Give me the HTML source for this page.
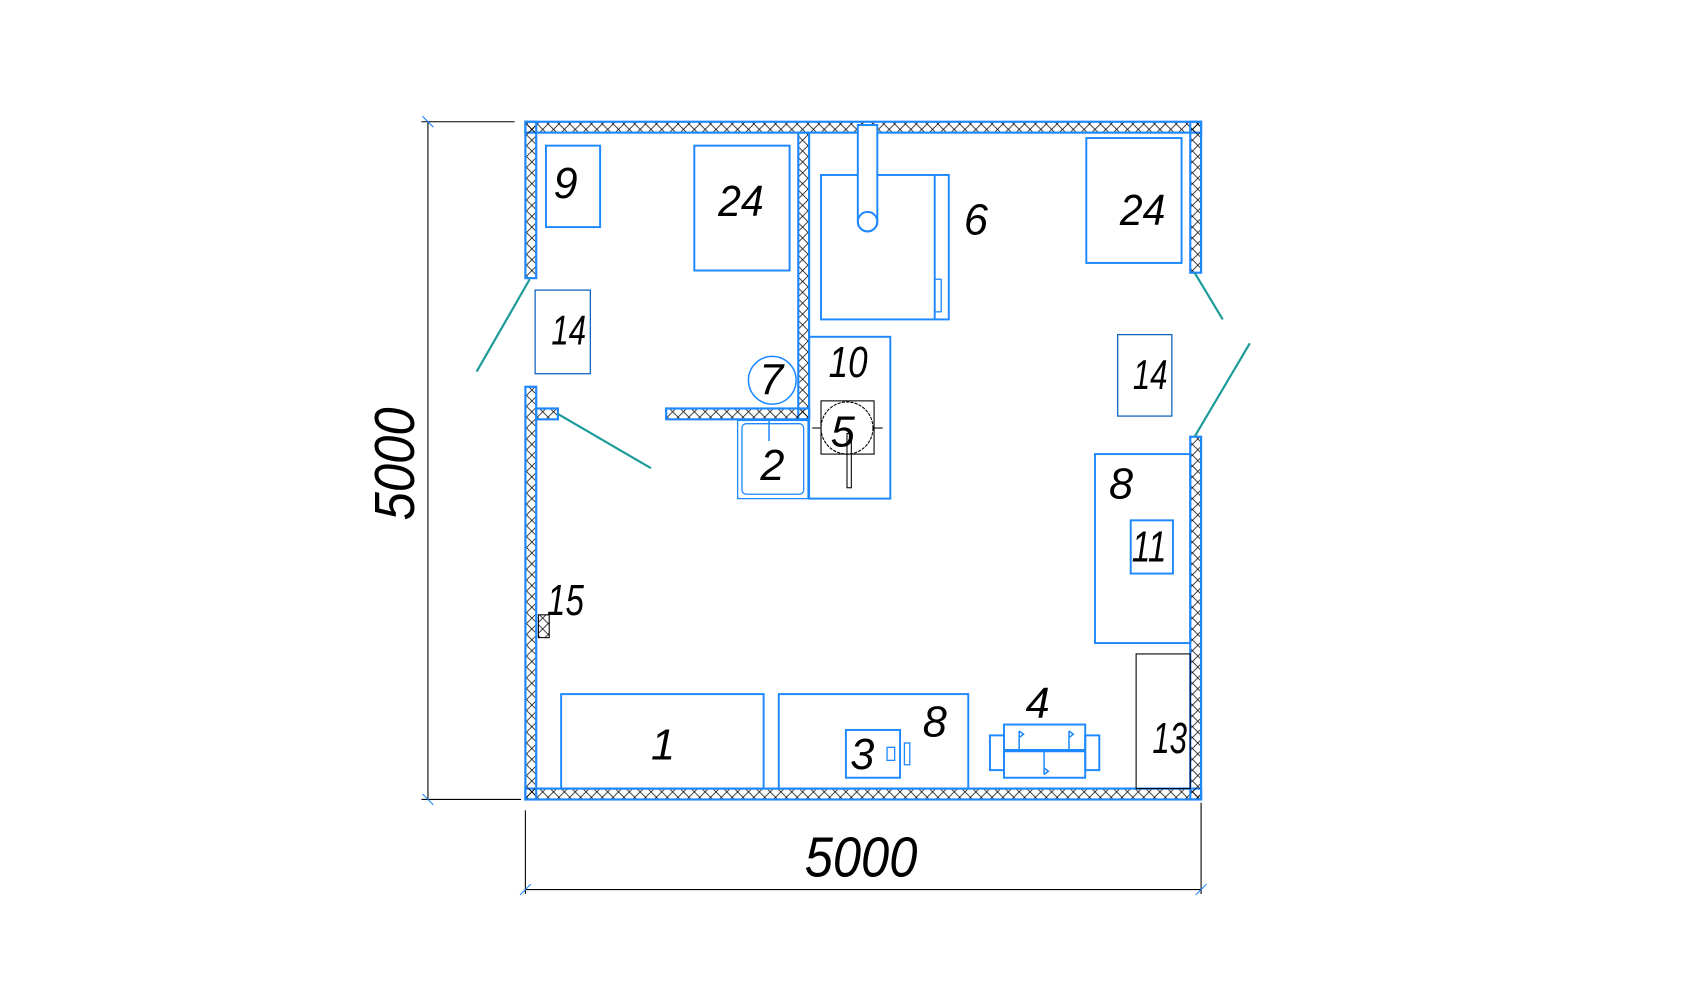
<!DOCTYPE html>
<html><head><meta charset="utf-8"><style>
html,body{margin:0;padding:0;background:#fff;}
svg{display:block;}
text{font-family:"Liberation Sans",sans-serif;font-style:italic;fill:#000;}
</style></head><body>
<svg width="1700" height="1000" viewBox="0 0 1550 912" preserveAspectRatio="none" xmlns="http://www.w3.org/2000/svg">
<defs>
<pattern id="hh" width="10" height="10" patternUnits="userSpaceOnUse">
<path d="M0,0 L10,10 M10,0 L0,10" stroke="#000" stroke-width="0.7"/>
</pattern>
</defs>
<g transform="matrix(0.9873 0 0 0.9905 1.18 -0.89)">
<g stroke="#1e88ff" stroke-width="2">
<rect x="484" y="113" width="624" height="10" fill="url(#hh)"/>
<rect x="484" y="727" width="624" height="10" fill="url(#hh)"/>
<rect x="484" y="113" width="10" height="144" fill="url(#hh)"/>
<rect x="484" y="357" width="10" height="380" fill="url(#hh)"/>
<rect x="494" y="377" width="20" height="10" fill="url(#hh)"/>
<rect x="1098" y="113" width="10" height="139" fill="url(#hh)"/>
<rect x="1098" y="403" width="10" height="334" fill="url(#hh)"/>
<rect x="736" y="123" width="10" height="264" fill="url(#hh)"/>
<rect x="614" y="377" width="132" height="10" fill="url(#hh)"/>
</g>
<g stroke="#1a9a9a" stroke-width="2">
<line x1="488" y1="258" x2="439" y2="343"/>
<line x1="514" y1="382" x2="600" y2="432"/>
<line x1="1102" y1="252" x2="1128" y2="295"/>
<line x1="1153" y1="317" x2="1102" y2="403"/>
</g>
<g fill="none" stroke="#1e88ff" stroke-width="1.8">
<rect x="503" y="135" width="50" height="75"/>
<rect x="640" y="135" width="88" height="115"/>
<rect x="493" y="268" width="51" height="77" stroke="#1565c0" stroke-width="1.2"/>
<rect x="757" y="162" width="118" height="133"/>
<line x1="862" y1="162" x2="862" y2="295"/>
<rect x="862" y="258" width="6" height="30" stroke-width="1.2"/>
<path d="M791,116 H809 V205 A9,9 0 0 1 791,205 Z" fill="#fff"/>
<circle cx="800" cy="205" r="9"/>
<rect x="1002" y="128" width="88" height="115"/>
<rect x="1031" y="309" width="50" height="75" stroke="#1565c0" stroke-width="1.2"/>
<rect x="746" y="311" width="75" height="149"/>
<circle cx="712" cy="351" r="22" stroke-width="1.4"/>
<rect x="680" y="388" width="65" height="72" stroke-width="1.2"/>
<rect x="684" y="391" width="57" height="65" rx="4" stroke-width="1.2"/>
<line x1="709" y1="388" x2="709" y2="407" stroke-width="1.4"/>
<rect x="1010" y="419" width="88" height="174"/>
<rect x="1043" y="480" width="39" height="49"/>
<rect x="517" y="640" width="187" height="87"/>
<rect x="718" y="640" width="175" height="87"/>
<rect x="780" y="673" width="50" height="44"/>
<rect x="818" y="689" width="7" height="12" stroke-width="1.2"/>
<rect x="834" y="685" width="5" height="20" stroke-width="1.2"/>
<rect x="926" y="668" width="75" height="49"/>
<rect x="913" y="678" width="13" height="32"/>
<rect x="1001" y="678" width="13" height="32"/>
<line x1="926" y1="692" x2="1001" y2="692" stroke-width="3"/>
<path d="M940,692 V674 M940,674 l4,3 -4,3 M986,692 V674 M986,674 l4,3 -4,3 M963,692 V714 M963,714 l4,-3 -4,-3" stroke-width="1.4"/>
</g>
<g fill="none" stroke="#000" stroke-width="1">
<rect x="757" y="370" width="49" height="49"/>
<circle cx="781" cy="395" r="24" stroke-dasharray="3,1"/>
<line x1="749" y1="395" x2="757" y2="395"/>
<line x1="806" y1="395" x2="814" y2="395"/>
<rect x="781" y="400" width="4" height="50"/>
<rect x="1048" y="603" width="50" height="124"/>
<rect x="496" y="567" width="10" height="21" fill="url(#hh)"/>
<line x1="394" y1="113" x2="394" y2="737"/>
<line x1="388" y1="113" x2="474" y2="113"/>
<line x1="388" y1="737" x2="480" y2="737"/>
<line x1="484" y1="820" x2="1108" y2="820"/>
<line x1="484" y1="747" x2="484" y2="824"/>
<line x1="1108" y1="740" x2="1108" y2="824"/>
</g>
<g stroke="#1e88ff" stroke-width="1">
<line x1="389" y1="108" x2="399" y2="118"/>
<line x1="389" y1="732" x2="399" y2="742"/>
<line x1="479" y1="825" x2="489" y2="815"/>
<line x1="1103" y1="825" x2="1113" y2="815"/>
</g>
<g font-size="40">
<text x="510" y="183">9</text>
<text x="662" y="200" textLength="42" lengthAdjust="spacingAndGlyphs">24</text>
<text x="508" y="318" font-size="38" textLength="32" lengthAdjust="spacingAndGlyphs">14</text>
<text x="889" y="217">6</text>
<text x="1033" y="208" textLength="42" lengthAdjust="spacingAndGlyphs">24</text>
<text x="1045" y="359" font-size="38" textLength="32" lengthAdjust="spacingAndGlyphs">14</text>
<text x="764" y="348" textLength="36" lengthAdjust="spacingAndGlyphs">10</text>
<text x="700" y="364">7</text>
<text x="766" y="412">5</text>
<text x="701" y="443">2</text>
<text x="1023" y="460">8</text>
<text x="1044" y="518" textLength="32" lengthAdjust="spacingAndGlyphs">11</text>
<text x="504" y="567" textLength="34" lengthAdjust="spacingAndGlyphs">15</text>
<text x="600" y="700">1</text>
<text x="784" y="709">3</text>
<text x="851" y="679">8</text>
<text x="946" y="662">4</text>
<text x="1063" y="694" textLength="32" lengthAdjust="spacingAndGlyphs">13</text>
</g>
<text x="0" y="0" font-size="52" textLength="104" lengthAdjust="spacingAndGlyphs" transform="translate(381,480) rotate(-90)">5000</text>
<text x="742" y="808" font-size="52" textLength="104" lengthAdjust="spacingAndGlyphs">5000</text>
</g>
</svg>
</body></html>
